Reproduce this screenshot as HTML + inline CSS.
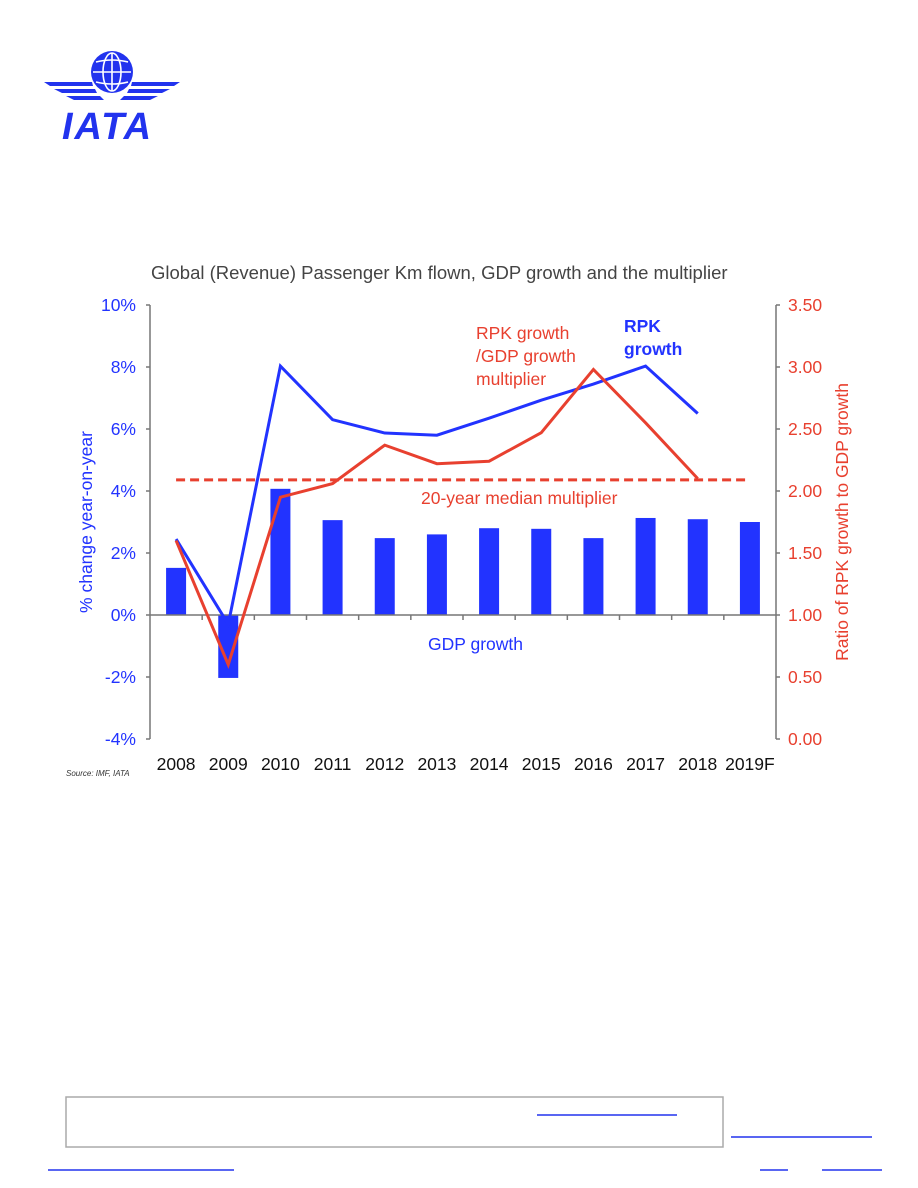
<!DOCTYPE html>
<html><head><meta charset="utf-8"><style>
body{margin:0;background:#fff;width:918px;height:1188px;position:relative;overflow:hidden;font-family:"Liberation Sans",sans-serif}
</style></head><body>
<svg width="918" height="1188" style="position:absolute;left:0;top:0" font-family="Liberation Sans, sans-serif">
<g>
 <circle cx="112" cy="72" r="21" fill="#2233ee"/>
 <g stroke="#fff" stroke-width="1.6" fill="none">
  <ellipse cx="112" cy="72" rx="9" ry="19"/><line x1="112" y1="53" x2="112" y2="91"/>
  <line x1="93" y1="72" x2="131" y2="72"/><path d="M96 62 Q112 58 128 62 M96 82 Q112 86 128 82"/>
 </g>
 <g fill="#2233ee">
  <polygon points="44,82 92,82 93,86 50,86"/>
  <polygon points="54,89 95,89 97,93 62,93"/>
  <polygon points="66,96 100,96 104,100 74,100"/>
  <polygon points="180,82 132,82 131,86 174,86"/>
  <polygon points="170,89 129,89 127,93 162,93"/>
  <polygon points="158,96 124,96 120,100 150,100"/>
 </g>
 <text x="62" y="139" font-size="38" font-weight="bold" font-style="italic" fill="#2233ee" letter-spacing="2">IATA</text>
</g>
<text x="151" y="279" font-size="18.5" fill="#444">Global (Revenue) Passenger Km flown, GDP growth and the multiplier</text>
<g id="chart"></g>
<text x="66" y="776" font-size="8" font-style="italic" fill="#333">Source: IMF, IATA</text>
<rect x="66" y="1097" width="657" height="50" fill="none" stroke="#aaa" stroke-width="1.5"/>
<line x1="537" y1="1115" x2="677" y2="1115" stroke="#2233ee" stroke-width="1.5"/>
<line x1="731" y1="1137" x2="872" y2="1137" stroke="#2233ee" stroke-width="1.5"/>
<line x1="48" y1="1170" x2="234" y2="1170" stroke="#2233ee" stroke-width="1.5"/>
<line x1="760" y1="1170" x2="788" y2="1170" stroke="#2233ee" stroke-width="1.5"/>
<line x1="822" y1="1170" x2="882" y2="1170" stroke="#2233ee" stroke-width="1.5"/>
</svg>
<script>
const categories=["2008","2009","2010","2011","2012","2013","2014","2015","2016","2017","2018","2019F"];
const gdpGrowth=[1.52,-2.03,4.07,3.06,2.48,2.6,2.8,2.78,2.48,3.13,3.09,3.0];
const rpkGrowth=[2.45,-0.3,8.03,6.3,5.87,5.8,6.35,6.93,7.45,8.03,6.5];
const multiplier=[1.6,0.6,1.95,2.06,2.37,2.22,2.24,2.47,2.98,2.55,2.1];
const medianMultiplier=[2.09];
const leftTicks=[10,8,6,4,2,0,-2,-4];
const rightTicks=[3.5,3.0,2.5,2.0,1.5,1.0,0.5,0.0];
const NS="http://www.w3.org/2000/svg";
const g=document.getElementById('chart');
const X0=150,X1=776,T=305,B=739;
const bw=(X1-X0)/categories.length;
const xc=i=>X0+bw*(i+0.5);
const yL=v=>T+(10-v)*(B-T)/14;
const yR=v=>T+(3.5-v)*(B-T)/3.5;
function mk(tag,at,txt){const e=document.createElementNS(NS,tag);for(const k in at)e.setAttribute(k,at[k]);if(txt!==undefined)e.textContent=txt;g.appendChild(e);return e;}
const RED="#e8402f",BLUE="#2233ff",AX="#777";
gdpGrowth.forEach((v,i)=>{const e=mk('rect',{x:xc(i)-10,y:Math.min(yL(v),yL(0)),width:20,height:Math.abs(yL(v)-yL(0)),fill:BLUE});

});
let a=mk('line',{x1:X0,y1:T,x2:X0,y2:B,stroke:AX,'stroke-width':1.5});

a=mk('line',{x1:X1,y1:T,x2:X1,y2:B,stroke:AX,'stroke-width':1.5});

a=mk('line',{x1:X0,y1:yL(0),x2:X1,y2:yL(0),stroke:AX,'stroke-width':1.5});

for(let i=1;i<categories.length;i++){mk('line',{x1:X0+bw*i,y1:yL(0),x2:X0+bw*i,y2:yL(0)+5,stroke:AX,'stroke-width':1.5});}
leftTicks.forEach(v=>{mk('line',{x1:X0-4,y1:yL(v),x2:X0,y2:yL(v),stroke:AX,'stroke-width':1.5});
const t=mk('text',{x:X0-14,y:yL(v)+6,'text-anchor':'end','font-size':17.5,fill:BLUE},v+'%');
});
rightTicks.forEach(v=>{mk('line',{x1:X1,y1:yR(v),x2:X1+4,y2:yR(v),stroke:AX,'stroke-width':1.5});
const t=mk('text',{x:X1+12,y:yR(v)+6,'font-size':17.5,fill:RED},v.toFixed(2));
});
categories.forEach((c,i)=>{const t=mk('text',{x:xc(i),y:770,'text-anchor':'middle','font-size':17.5,fill:'#111'},c);
});
let l=mk('line',{x1:xc(0),y1:yR(medianMultiplier[0]),x2:xc(11),y2:yR(medianMultiplier[0]),stroke:RED,'stroke-width':3,'stroke-dasharray':'9,5'});

l=mk('polyline',{points:rpkGrowth.map((v,i)=>xc(i)+','+yL(v)).join(' '),fill:'none',stroke:BLUE,'stroke-width':3});

l=mk('polyline',{points:multiplier.map((v,i)=>xc(i)+','+yR(v)).join(' '),fill:'none',stroke:RED,'stroke-width':3});

function lab(x,y,txt,fill,name,extra){const t=mk('text',Object.assign({x:x,y:y,'font-size':17.5,fill:fill},extra||{}),txt);
}
lab(476,339,'RPK growth',RED,'multiplier-label-1');
lab(476,362,'/GDP growth',RED,'multiplier-label-2');
lab(476,385,'multiplier',RED,'multiplier-label-3');
lab(624,332,'RPK',BLUE,'rpk-label-1',{'font-weight':'bold'});
lab(624,355,'growth',BLUE,'rpk-label-2',{'font-weight':'bold'});
lab(421,504,'20-year median multiplier',RED,'median-label');
lab(428,650,'GDP growth',BLUE,'gdp-label');
let yt=mk('text',{x:0,y:0,transform:'translate(92,522) rotate(-90)','text-anchor':'middle','font-size':17.5,fill:BLUE},'% change year-on-year');

yt=mk('text',{x:0,y:0,transform:'translate(848,522) rotate(-90)','text-anchor':'middle','font-size':17.5,fill:RED},'Ratio of RPK growth to GDP growth');

</script>
</body></html>
